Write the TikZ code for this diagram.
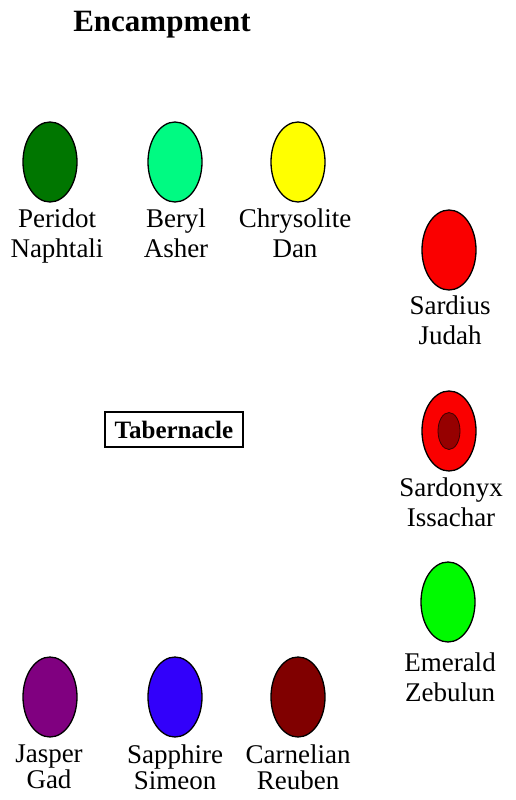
\documentclass[tikz,border=0pt]{standalone}
\usepackage{fontspec}
\setmainfont{Liberation Serif}
\usetikzlibrary{shapes.geometric}
\definecolor{peridot}{RGB}{0,118,0}
\definecolor{beryl}{RGB}{0,250,130}
\definecolor{chrysolite}{RGB}{255,255,0}
\definecolor{sardius}{RGB}{250,0,0}
\definecolor{sardonyxcore}{RGB}{150,0,0}
\definecolor{emerald}{RGB}{0,250,0}
\definecolor{jasper}{RGB}{128,0,128}
\definecolor{sapphire}{RGB}{50,0,250}
\definecolor{carnelian}{RGB}{128,0,0}
\tikzset{
  gem/.style={ellipse, draw=black, line width=1.3pt, minimum width=54pt, minimum height=80pt, inner sep=0pt},
  core/.style={ellipse, draw=black!60!sardonyxcore, line width=0.8pt, minimum width=22pt, minimum height=37pt, inner sep=0pt, fill=sardonyxcore},
  lbl/.style={anchor=north, align=center, inner sep=0pt, font=\fontsize{27}{30}\selectfont},
  lblb/.style={anchor=north, align=center, inner sep=0pt, font=\fontsize{27}{26}\selectfont},
  heading/.style={inner sep=0pt, font=\fontsize{31}{34}\selectfont\bfseries},
  tabbox/.style={draw=black, line width=2.2pt, minimum width=138pt, minimum height=35pt, inner sep=0pt, font=\fontsize{25}{28}\selectfont\bfseries}
}
\begin{document}
\begin{tikzpicture}[x=1pt,y=-1pt]
\useasboundingbox[fill=white] (0,0) rectangle (516,800);
\node[heading] (title) at (162,25) {Encampment};
% top row
\node[gem, fill=peridot] (peridot) at (50,162) {};
\node[gem, fill=beryl] (beryl) at (175,162) {};
\node[gem, fill=chrysolite] (chrysolite) at (298,162) {};
\node[lbl] (lperidot) at (57,209) {Peridot\\Naphtali};
\node[lbl] (lberyl) at (176,209) {Beryl\\Asher};
\node[lbl] (lchrysolite) at (295,209) {Chrysolite\\Dan};
% right column
\node[gem, fill=sardius] (sardius) at (449,250) {};
\node[lbl] (lsardius) at (450,296) {Sardius\\Judah};
\node[gem, fill=sardius] (sardonyx) at (449,431) {};
\node[core] (sardonyxc) at (449,431) {};
\node[lbl] (lsardonyx) at (451,478) {Sardonyx\\Issachar};
\node[gem, fill=emerald] (emerald) at (448,602) {};
\node[lbl] (lemerald) at (450,653) {Emerald\\Zebulun};
% tabernacle
\node[tabbox] (tab) at (174,429.5) {Tabernacle};
% bottom row
\node[gem, fill=jasper] (jasper) at (50,697) {};
\node[gem, fill=sapphire] (sapphire) at (175,697) {};
\node[gem, fill=carnelian] (carnelian) at (298,697) {};
\node[lblb] (ljasper) at (49,745) {Jasper\\Gad};
\node[lblb] (lsapphire) at (175,745) {Sapphire\\Simeon};
\node[lblb] (lcarnelian) at (298,745) {Carnelian\\Reuben};
\end{tikzpicture}
\end{document}
